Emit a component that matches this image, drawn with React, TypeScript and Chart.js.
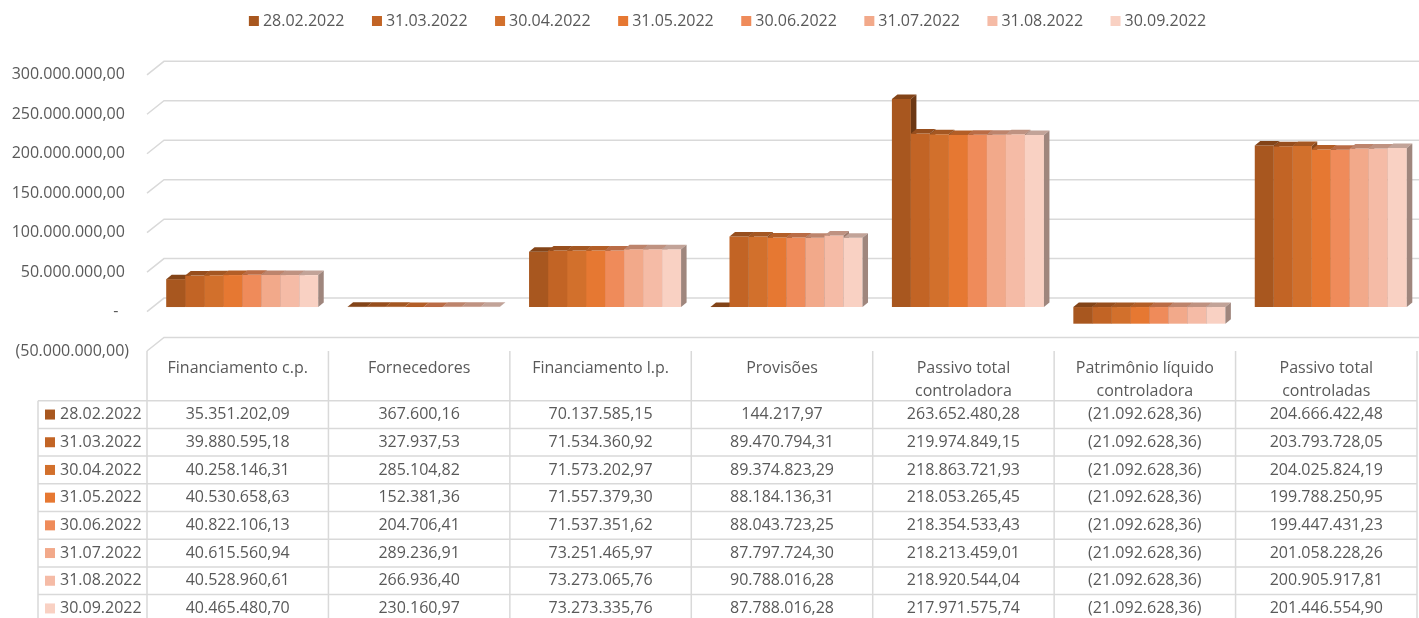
import React, { useEffect, useRef } from 'react';
import { Chart, registerables } from 'chart.js';

Chart.register(...registerables);

// ---------- data ----------
const categories: string[][] = [
  ['Financiamento c.p.'],
  ['Fornecedores'],
  ['Financiamento l.p.'],
  ['Provisões'],
  ['Passivo total', 'controladora'],
  ['Patrimônio líquido', 'controladora'],
  ['Passivo total', 'controladas'],
];

const seriesLabels = [
  '28.02.2022',
  '31.03.2022',
  '30.04.2022',
  '31.05.2022',
  '30.06.2022',
  '31.07.2022',
  '31.08.2022',
  '30.09.2022',
];

const v20220228 = [35351202.09, 367600.16, 70137585.15, 144217.97, 263652480.28, -21092628.36, 204666422.48];
const v20220331 = [39880595.18, 327937.53, 71534360.92, 89470794.31, 219974849.15, -21092628.36, 203793728.05];
const v20220430 = [40258146.31, 285104.82, 71573202.97, 89374823.29, 218863721.93, -21092628.36, 204025824.19];
const v20220531 = [40530658.63, 152381.36, 71557379.3, 88184136.31, 218053265.45, -21092628.36, 199788250.95];
const v20220630 = [40822106.13, 204706.41, 71537351.62, 88043723.25, 218354533.43, -21092628.36, 199447431.23];
const v20220731 = [40615560.94, 289236.91, 73251465.97, 87797724.3, 218213459.01, -21092628.36, 201058228.26];
const v20220831 = [40528960.61, 266936.4, 73273065.76, 90788016.28, 218920544.04, -21092628.36, 200905917.81];
const v20220930 = [40465480.7, 230160.97, 73273335.76, 87788016.28, 217971575.74, -21092628.36, 201446554.9];

const seriesValues = [v20220228, v20220331, v20220430, v20220531, v20220630, v20220731, v20220831, v20220930];

const seriesColors = ['#A8571F', '#C26425', '#D2702C', '#E67832', '#EF8B5A', '#F2A98A', '#F5BBA6', '#F9D1C3'];

const yMin = -50000000;
const yMax = 300000000;
const yStep = 50000000;

// ---------- styles ----------
const FONT_FAMILY = '"Open Sans", sans-serif';
const FONT = '16px "Open Sans", sans-serif';
const TEXT = '#595959';
const LINE = '#D9D9D9';
const BAR_SHIFT_X = 4.5;
const BAR_SHIFT_Y = -4.5;
const DEPTH_X = 5.5;
const DEPTH_Y = 4.5;
const WALL_X = 17;
const WALL_Y = 13.5;

function fmt(v: number): string {
  const neg = v < 0;
  const [i, d] = Math.abs(v).toFixed(2).split('.');
  const int = i.replace(/\B(?=(\d{3})+(?!\d))/g, '.');
  const s = int + ',' + d;
  return neg ? '(' + s + ')' : s;
}

function shade(hex: string, f: number): string {
  const n = parseInt(hex.slice(1), 16);
  const r = Math.round(((n >> 16) & 255) * f);
  const g = Math.round(((n >> 8) & 255) * f);
  const b = Math.round((n & 255) * f);
  return `rgb(${r},${g},${b})`;
}

const wallPlugin = {
  id: 'wall3d',
  beforeDatasetsDraw(chart: any) {
    const { ctx, chartArea } = chart;
    const y = chart.scales.y;
    ctx.save();
    ctx.strokeStyle = LINE;
    ctx.lineWidth = 1.5;
    y.ticks.forEach((t: any) => {
      const py = y.getPixelForValue(t.value);
      ctx.beginPath();
      ctx.moveTo(chartArea.left, py);
      ctx.lineTo(chartArea.left + WALL_X, py - WALL_Y);
      ctx.lineTo(chart.width, py - WALL_Y);
      ctx.stroke();
    });
    ctx.restore();
  },
  // bars are drawn below in left-to-right order so 3D faces overlap correctly
  beforeDatasetDraw() {
    return false;
  },
  afterDatasetsDraw(chart: any) {
    const ctx = chart.ctx;
    ctx.save();
    ctx.translate(BAR_SHIFT_X, BAR_SHIFT_Y);
    for (let k = 0; k < chart.data.datasets.length; k++) {
      const meta = chart.getDatasetMeta(k);
      const color = seriesColors[k];
      meta.data.forEach((bar: any) => {
        bar.draw(ctx);
        const p = bar.getProps(['x', 'y', 'base', 'width'], true);
        const x1 = p.x - p.width / 2;
        const x2 = p.x + p.width / 2;
        const top = Math.min(p.y, p.base);
        const bottom = Math.max(p.y, p.base);
        ctx.fillStyle = shade(color, 0.78);
        ctx.beginPath();
        ctx.moveTo(x1, top);
        ctx.lineTo(x1 + DEPTH_X, top - DEPTH_Y);
        ctx.lineTo(x2 + DEPTH_X, top - DEPTH_Y);
        ctx.lineTo(x2, top);
        ctx.closePath();
        ctx.fill();
        ctx.fillStyle = shade(color, 0.64);
        ctx.beginPath();
        ctx.moveTo(x2, top);
        ctx.lineTo(x2 + DEPTH_X, top - DEPTH_Y);
        ctx.lineTo(x2 + DEPTH_X, bottom - DEPTH_Y);
        ctx.lineTo(x2, bottom);
        ctx.closePath();
        ctx.fill();
      });
    }
    ctx.restore();
  },
};

const tableLegendPlugin = {
  id: 'tableLegend',
  afterDraw(chart: any) {
    const { ctx, chartArea } = chart;
    const x = chart.scales.x;
    const n = categories.length;
    const colW = (chartArea.right - chartArea.left) / n;
    const tableLeft = 38;
    const headerTop = chartArea.bottom;
    const firstRowLine = 400.7;
    const rowH = 27.7;
    const H = chart.height;

    ctx.save();
    ctx.strokeStyle = LINE;
    ctx.lineWidth = 1.5;
    for (let i = 0; i <= n; i++) {
      const lx = chartArea.left + i * colW;
      ctx.beginPath();
      ctx.moveTo(lx, headerTop);
      ctx.lineTo(lx, H);
      ctx.stroke();
    }
    ctx.beginPath();
    ctx.moveTo(tableLeft, firstRowLine);
    ctx.lineTo(tableLeft, H);
    ctx.stroke();
    for (let k = 0; k < seriesLabels.length; k++) {
      const ly = firstRowLine + k * rowH;
      ctx.beginPath();
      ctx.moveTo(tableLeft, ly);
      ctx.lineTo(chartArea.right, ly);
      ctx.stroke();
    }

    ctx.font = FONT;
    ctx.fillStyle = TEXT;
    ctx.textBaseline = 'middle';
    ctx.textAlign = 'center';
    categories.forEach((lines, i) => {
      const cx = x.getPixelForValue(i);
      lines.forEach((ln, j) => ctx.fillText(ln, cx, 368 + j * 23));
    });
    seriesLabels.forEach((lab, k) => {
      const cy = firstRowLine + k * rowH + rowH / 2;
      ctx.fillStyle = seriesColors[k];
      ctx.fillRect(45, cy - 5, 10, 10);
      ctx.fillStyle = TEXT;
      ctx.textAlign = 'left';
      ctx.fillText(lab, 60, cy);
      ctx.textAlign = 'center';
      seriesValues[k].forEach((v, i) => {
        ctx.fillText(fmt(v), x.getPixelForValue(i), cy);
      });
    });

    // top legend
    const box = 10;
    const gapBoxText = 4;
    const gapItems = 27.5;
    const widths = seriesLabels.map((l) => box + gapBoxText + ctx.measureText(l).width);
    const total = widths.reduce((a, b) => a + b, 0) + gapItems * (widths.length - 1);
    let lx = 727.5 - total / 2;
    const ly = 21;
    ctx.textAlign = 'left';
    seriesLabels.forEach((l, k) => {
      ctx.fillStyle = seriesColors[k];
      ctx.fillRect(lx, ly - 5, box, box);
      ctx.fillStyle = TEXT;
      ctx.fillText(l, lx + box + gapBoxText, ly);
      lx += widths[k] + gapItems;
    });
    ctx.restore();
  },
};

export default function App() {
  const ref = useRef<HTMLCanvasElement | null>(null);
  useEffect(() => {
    document.body.style.margin = '0';
    Chart.defaults.font.family = FONT_FAMILY;
    Chart.defaults.font.size = 16;
    Chart.defaults.color = TEXT;
    const chart = new Chart(ref.current as HTMLCanvasElement, {
      type: 'bar',
      data: {
        labels: categories.map((c) => c.join(' ')),
        datasets: seriesLabels.map((label, k) => ({
          label,
          data: seriesValues[k],
          backgroundColor: seriesColors[k],
          borderWidth: 0,
          categoryPercentage: 0.838,
          barPercentage: 1,
        })),
      },
      options: {
        responsive: false,
        animation: false,
        events: [],
        layout: { padding: { top: 74.8, bottom: 267, left: 0, right: 2 } },
        plugins: {
          legend: { display: false },
          tooltip: { enabled: false },
        },
        scales: {
          x: { display: false },
          y: {
            min: yMin,
            max: yMax,
            afterFit: (s: any) => {
              s.width = 147;
            },
            grid: { display: false, drawTicks: false },
            border: { display: false },
            ticks: {
              stepSize: yStep,
              padding: 18,
              color: TEXT,
              font: { size: 16, family: FONT_FAMILY },
              callback: (v: any) => {
                const n = Number(v);
                if (n === 0) return '-\u2002\u2009';
                return n < 0 ? fmt(n) : fmt(n) + ' ';
              },
            },
          },
        },
      },
      plugins: [wallPlugin, tableLegendPlugin],
    } as any);
    return () => chart.destroy();
  }, []);
  return (
    <div style={{ position: 'absolute', left: 0, top: 0, width: 1419, height: 618, background: '#fff' }}>
      <canvas ref={ref} width={1419} height={618} style={{ display: 'block' }} />
    </div>
  );
}
